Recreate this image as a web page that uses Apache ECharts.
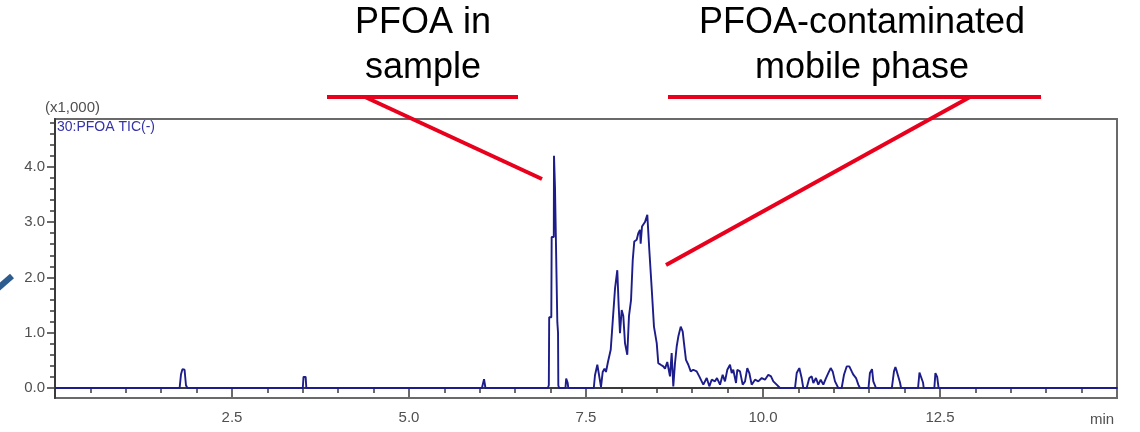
<!DOCTYPE html>
<html>
<head>
<meta charset="utf-8">
<script src="https://cdn.jsdelivr.net/npm/echarts@6/dist/echarts.min.js"></script>
<style>
html,body{margin:0;padding:0;background:#fff;}
#chart{width:1140px;height:432px;}
</style>
</head>
<body>
<div id="chart"></div>
<script>
// Retention time (min)
var times = [0,1.76,1.78,1.80,1.83,1.85,1.87,3.50,3.51,3.54,3.55,6.03,6.06,6.08,
6.96,6.975,6.98,7.01,7.015,7.045,7.048,7.058,7.062,7.09,7.095,7.105,7.109,7.12,7.21,7.22,7.24,7.25,
7.61,7.627,7.66,7.684,7.712,7.736,7.761,7.782,7.81,7.849,7.877,7.91,7.942,7.962,7.98,8.004,8.027,8.051,8.083,
8.107,8.136,8.16,8.182,8.216,8.239,8.263,8.272,8.291,8.333,8.366,8.394,8.428,8.46,8.499,8.521,8.555,8.592,8.616,
8.648,8.686,8.71,8.733,8.757,8.781,8.804,8.838,8.866,8.884,8.912,8.945,8.979,9.015,9.063,9.1,9.134,9.157,9.205,
9.242,9.275,9.322,9.35,9.393,9.43,9.463,9.496,9.534,9.558,9.58,9.619,9.637,9.675,9.713,9.746,9.778,9.807,9.84,
9.887,9.934,9.982,10.028,10.075,10.113,10.146,10.193,10.24,10.452,10.476,10.513,10.546,10.569,10.617,10.654,10.688,
10.711,10.748,10.781,10.815,10.852,10.89,10.922,10.956,10.984,11.017,11.04,11.063,11.111,11.144,11.182,11.219,
11.253,11.276,11.314,11.346,11.37,11.49,11.51,11.54,11.558,11.596,11.82,11.85,11.87,11.89,11.91,11.935,11.95,
12.19,12.21,12.23,12.26,12.27,12.42,12.435,12.46,12.48,15];
// Intensity (x1,000)
var intensity = [0,0,0.25,0.34,0.33,0.05,0,0,0.2,0.2,0,0,0.16,0,
0,0.05,1.28,1.28,2.73,2.73,4.2,4.2,3.63,3.63,1.19,1.0,0.05,0,0,0.17,0.1,0,
0,0.23,0.42,0.39,0.02,0.29,0.35,0.29,0.47,0.69,1.2,1.8,2.13,1.47,0.99,1.41,1.3,0.81,0.6,
1.3,1.59,2.31,2.65,2.68,2.8,2.86,2.61,2.92,3.0,3.13,2.5,1.8,1.11,0.81,0.45,0.42,0.39,0.35,
0.47,0.21,0.63,0.03,0.45,0.75,0.93,1.11,1.02,0.81,0.51,0.42,0.3,0.33,0.3,0.21,0.12,0.06,0.18,
0.03,0.15,0.12,0.18,0.06,0.24,0.12,0.33,0.42,0.27,0.33,0.09,0.33,0.3,0.06,0.12,0.36,0.27,0.06,
0.15,0.12,0.18,0.15,0.24,0.21,0.12,0.06,0,0,0.27,0.36,0.18,0,0,0.18,0.21,
0.09,0.18,0.06,0.15,0.06,0.18,0.27,0.36,0.3,0.12,0.06,0,0,0.24,0.39,0.39,
0.3,0.24,0.18,0.06,0,0,0.27,0.34,0.12,0,0,0.3,0.38,0.3,0.3,0.1,0,
0,0.28,0.29,0.1,0,0,0.27,0.2,0,0];

var xMajorTicks = [2.5,5.0,7.5,10.0,12.5];
var xMinorTicks = [0.5,1.0,1.5,2.0,3.0,3.5,4.0,4.5,5.5,6.0,6.5,7.0,8.0,8.5,9.0,9.5,10.5,11.0,11.5,12.0,13.0,13.5,14.0,14.5];
var yMajorTicks = [0,1,2,3,4];
var yMinorTicks = [0.2,0.4,0.6,0.8,1.2,1.4,1.6,1.8,2.2,2.4,2.6,2.8,3.2,3.4,3.6,3.8,4.2,4.4,4.6,4.8];

var FONT = "'Liberation Sans', Arial, sans-serif";
var data = times.map(function(t,i){return [t, intensity[i]];});

var chart = echarts.init(document.getElementById('chart'), null, {renderer:'canvas'});
var yBase = {type:'value', min:-0.181, max:4.864, position:'left', offset:0, splitLine:{show:false}};
var xBase = {type:'value', min:0, max:15, position:'bottom', offset:0, splitLine:{show:false}};
chart.setOption({
  animation:false,
  backgroundColor:'#ffffff',
  grid:{left:55, right:23, top:119, bottom:34, show:true, borderColor:'#6a6a6a', borderWidth:2, backgroundColor:'transparent'},
  xAxis:[
    Object.assign({}, xBase, {
      axisLine:{show:true, lineStyle:{color:'#3a3a3a', width:2}},
      axisTick:{show:true, customValues:xMajorTicks, length:9, lineStyle:{color:'#3a3a3a', width:1.5}},
      axisLabel:{show:true, customValues:xMajorTicks, margin:12, fontSize:15, color:'#505050', fontFamily:FONT,
        formatter:function(v){return v.toFixed(1);}}
    }),
    Object.assign({}, xBase, {
      axisLine:{show:false},
      axisTick:{show:true, customValues:xMinorTicks, length:5, lineStyle:{color:'#3a3a3a', width:1.5}},
      axisLabel:{show:false}
    })
  ],
  yAxis:[
    Object.assign({}, yBase, {
      axisLine:{show:true, lineStyle:{color:'#3a3a3a', width:2}},
      axisTick:{show:true, customValues:yMajorTicks, length:8, lineStyle:{color:'#3a3a3a', width:1.5}},
      axisLabel:{show:true, customValues:yMajorTicks, margin:10, fontSize:15, color:'#505050', fontFamily:FONT,
        formatter:function(v){return v.toFixed(1);}}
    }),
    Object.assign({}, yBase, {
      axisLine:{show:false},
      axisTick:{show:true, customValues:yMinorTicks, length:5, lineStyle:{color:'#3a3a3a', width:1.5}},
      axisLabel:{show:false}
    })
  ],
  series:[{
    type:'line', xAxisIndex:0, yAxisIndex:0, data:data, showSymbol:false, symbol:'none',
    lineStyle:{color:'#1c1c8a', width:1.9}, clip:true
  }],
  graphic:[
    {type:'text', left:45, top:100, style:{text:'(x1,000)', font:'15px '+FONT, fill:'#505050'}},
    {type:'text', left:57, top:120, style:{text:'30:PFOA TIC(-)', font:'14px '+FONT, fill:'#3434a8'}},
    {type:'text', x:1102, y:420, style:{text:'min', font:'15px '+FONT, fill:'#505050', align:'center', verticalAlign:'middle'}},
    {type:'text', x:423, y:23, style:{text:'PFOA in', font:'36px '+FONT, fill:'#000', align:'center', verticalAlign:'middle'}},
    {type:'text', x:423, y:68, style:{text:'sample', font:'36px '+FONT, fill:'#000', align:'center', verticalAlign:'middle'}},
    {type:'text', x:862, y:23, style:{text:'PFOA-contaminated', font:'36px '+FONT, fill:'#000', align:'center', verticalAlign:'middle'}},
    {type:'text', x:862, y:68, style:{text:'mobile phase', font:'36px '+FONT, fill:'#000', align:'center', verticalAlign:'middle'}},
    {type:'line', shape:{x1:327, y1:97, x2:518, y2:97}, style:{stroke:'#e8001c', lineWidth:4}},
    {type:'line', shape:{x1:365, y1:97, x2:542, y2:179}, style:{stroke:'#e8001c', lineWidth:4}},
    {type:'line', shape:{x1:668, y1:97, x2:1041, y2:97}, style:{stroke:'#e8001c', lineWidth:4}},
    {type:'line', shape:{x1:970, y1:97, x2:666, y2:265}, style:{stroke:'#e8001c', lineWidth:4}},
    {type:'line', shape:{x1:-4, y1:290, x2:12, y2:276}, style:{stroke:'#2d5c8e', lineWidth:6}}
  ]
});
</script>
</body>
</html>
